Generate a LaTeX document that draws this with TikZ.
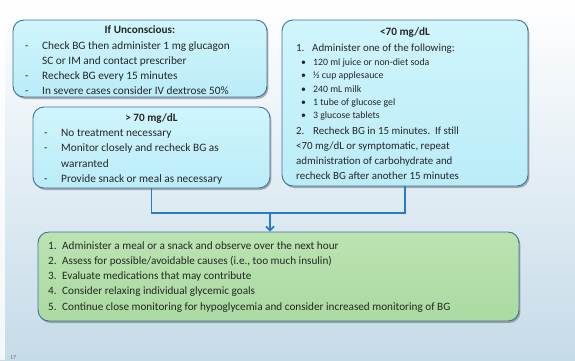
\documentclass[tikz,border=0pt]{standalone}
\usepackage{fontspec}
\setmainfont{Carlito}
\usetikzlibrary{shadows,arrows.meta}

\definecolor{boxline}{HTML}{41719A}
\definecolor{cyantop}{HTML}{D0F5FC}
\definecolor{cyanbot}{HTML}{BAECF8}
\definecolor{greentop}{HTML}{BAE3B1}
\definecolor{greenbot}{HTML}{ABDAA2}
\definecolor{flowblue}{HTML}{2A7BC2}
\definecolor{bgmid}{HTML}{ECF4F9}
\definecolor{bgbot}{HTML}{C5DBE8}
\definecolor{txt}{HTML}{262626}

\newcommand\dashln[1]{\makebox[17pt][l]{-}#1}
\newcommand\numln[2]{\makebox[#1][l]{#2}}
\newcommand\lines[1]{\parbox[t]{480pt}{#1}}

\begin{document}
\begin{tikzpicture}[x=1pt,y=-1pt,
  panel/.style={draw=boxline, line width=0.9pt, rounded corners=11pt,
    inner sep=0pt,
    drop shadow={shadow xshift=1.4pt, shadow yshift=-2pt, opacity=0.5, fill=black!60}},
  cyanpanel/.style={panel, top color=cyantop, bottom color=cyanbot},
  greenpanel/.style={panel, top color=greentop, bottom color=greenbot},
  body/.style={anchor=base west, inner sep=0pt, text=txt,
    font=\fontsize{11.3}{15.3}\selectfont},
  heading/.style={anchor=base, inner sep=0pt, text=txt,
    font=\fontsize{11.2}{13}\selectfont\bfseries},
  flow/.style={draw=flowblue, line width=1.8pt},
]
% page and background
\useasboundingbox (0,0) rectangle (575,360);
\shade[top color=white, middle color=bgmid, bottom color=bgbot] (0,0) rectangle (575,360);
\fill[white, opacity=0.8] (0,0) rectangle (5,360);

% panels
\node[cyanpanel, minimum width=254pt, minimum height=77pt] (unc) at (140,58.5) {};
\node[cyanpanel, minimum width=237pt, minimum height=81pt] (high) at (151.5,147.5) {};
\node[cyanpanel, minimum width=246pt, minimum height=166pt] (low) at (405,103) {};
\node[greenpanel, minimum width=481pt, minimum height=89pt] (after) at (278.5,276.5) {};

% unconscious patient
\node[heading] (uncT) at (140,33.5) {If Unconscious:};
\node[body] (uncB) at (25,49) {\lines{%
  \dashln{Check BG then administer 1 mg glucagon}\\
  \hspace*{17pt}SC or IM and contact prescriber\\
  \dashln{Recheck BG every 15 minutes}\\
  \dashln{In severe cases consider IV dextrose 50\%}}};

% above 70 mg/dL
\node[heading] (highT) at (151.5,121) {> 70 mg/dL};
\node[body] (highB) at (44,136.5) {\lines{%
  \dashln{No treatment necessary}\\
  \dashln{Monitor closely and recheck BG as}\\
  \hspace*{17pt}warranted\\
  \dashln{Provide snack or meal as necessary}}};

% below 70 mg/dL
\node[heading] (lowT) at (405,35) {<70 mg/dL};
\node[body, font=\fontsize{10.9}{15}\selectfont] (lowA) at (296,51)
  {\numln{16pt}{1.}Administer one of the following:};
\node[body, font=\fontsize{9.8}{13.3}\selectfont] (lowL) at (301,65.5) {\lines{%
  \numln{12pt}{•}120 ml juice or non-diet soda\\
  \numln{12pt}{•}½ cup applesauce\\
  \numln{12pt}{•}240 mL milk\\
  \numln{12pt}{•}1 tube of glucose gel\\
  \numln{12pt}{•}3 glucose tablets}};
\node[body, font=\fontsize{10.9}{15}\selectfont] (lowB) at (296,134) {\lines{%
  \numln{17pt}{2.}Recheck BG in 15 minutes.\ \ If still\\
  <70 mg/dL or symptomatic, repeat\\
  administration of carbohydrate and\\
  recheck BG after another 15 minutes}};

% follow-up steps
\node[body, font=\fontsize{11.2}{15.3}\selectfont] (afterB) at (48,249) {\lines{%
  \numln{14pt}{1.}Administer a meal or a snack and observe over the next hour\\
  \numln{14pt}{2.}Assess for possible/avoidable causes (i.e., too much insulin)\\
  \numln{14pt}{3.}Evaluate medications that may contribute\\
  \numln{14pt}{4.}Consider relaxing individual glycemic goals\\
  \numln{14pt}{5.}Continue close monitoring for hypoglycemia and consider increased monitoring of BG}};

% connectors
\coordinate (join) at (270,213);
\draw[flow, line join=miter] (high.south) |- (join) -| (low.south);
\draw[flow, -{Straight Barb[length=4pt,width=8pt]}] (join) -- (join |- after.north);

% page number
\node[anchor=base west, inner sep=0pt, text=black!55, font=\fontsize{6}{7}\selectfont] (pg) at (10,359.5) {17};
\end{tikzpicture}
\end{document}
